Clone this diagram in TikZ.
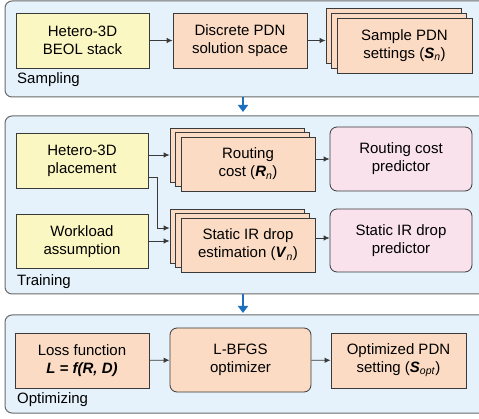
\documentclass[tikz,border=0pt]{standalone}
\usepackage{fontspec}
\setmainfont{Liberation Sans}
\usetikzlibrary{arrows.meta,calc}
\definecolor{feld}{HTML}{E5F2FB}
\definecolor{rahmen}{HTML}{6A6A6A}
\definecolor{linie}{HTML}{3A3A3A}
\definecolor{gelbl}{HTML}{FBF7C2}
\definecolor{pfirsich}{HTML}{FBDBC3}
\definecolor{rosa}{HTML}{F9E2EC}
\definecolor{blau}{HTML}{1C70BF}
\tikzset{
  pfeil/.style={-{Latex[length=6pt,width=5.5pt]},linie,line width=0.9pt},
  stufe/.style={-{Triangle[length=7pt,width=10pt]},blau,line width=2.2pt},
  panel/.style={fill=feld,draw=rahmen,line width=1pt,rounded corners=7pt},
  kasten/.style={draw=linie,line width=0.8pt,align=center,inner sep=0pt,minimum height=55pt},
  gelb/.style={kasten,fill=gelbl},
  orange/.style={kasten,fill=pfirsich},
  rund/.style={kasten,rounded corners=7pt},
  titel/.style={anchor=west,inner sep=0pt},
}
\begin{document}
\begin{tikzpicture}[x=1pt,y=-1pt,every node/.style={font=\fontsize{15}{18}\selectfont}]
  \useasboundingbox (0,0) rectangle (479,419);
  \draw[panel] (5,1) rectangle (492,97);
  \draw[panel] (5,116) rectangle (492,294);
  \draw[panel] (5,315) rectangle (492,413);
  \node[titel] (samplbl) at (17,80) {Sampling};
  \node[titel] (trainlbl) at (17,282) {Training};
  \node[titel] (optlbl) at (17,400) {Optimizing};

  \node[gelb,minimum width=133pt] (beol) at (82.5,40.5) {Hetero-3D\\BEOL stack};
  \node[orange,minimum width=134pt] (space) at (240,40.5) {Discrete PDN\\solution space};
  \node[orange,minimum width=135pt] (sampc) at (393.5,35.5) {};
  \node[orange,minimum width=135pt] (sampb) at (399,40.5) {};
  \node[orange,minimum width=135pt] (samp) at (404.5,45.5) {Sample PDN\\settings (\textbf{\textit{S}}\textsubscript{\textit{n}})};
  \draw[pfeil] (beol) -- (space);
  \draw[pfeil] (space.east) -- (space.east -| sampc.west);

  \node[gelb,minimum width=132pt] (place) at (82,160.5) {Hetero-3D\\placement};
  \node[gelb,minimum width=132pt,minimum height=54pt] (work) at (82,241.5) {Workload\\assumption};
  \node[orange,minimum width=134pt,minimum height=54pt] (routc) at (237,155) {};
  \node[orange,minimum width=134pt,minimum height=54pt] (routb) at (242.5,159.5) {};
  \node[orange,minimum width=134pt,minimum height=54pt] (rout) at (248,164) {Routing\\cost (\textbf{\textit{R}}\textsubscript{\textit{n}})};
  \node[orange,minimum width=134pt,minimum height=54pt] (irc) at (237,236) {};
  \node[orange,minimum width=134pt,minimum height=54pt] (irb) at (242.5,240.5) {};
  \node[orange,minimum width=134pt,minimum height=54pt] (ir) at (248,245) {Static IR drop\\estimation (\textbf{\textit{V}}\textsubscript{\textit{n}})};
  \node[rund,fill=rosa,minimum width=142pt,minimum height=64pt] (rpred) at (401,159) {Routing cost\\predictor};
  \node[rund,fill=rosa,minimum width=142pt,minimum height=63pt] (ipred) at (401,240.5) {Static IR drop\\predictor};
  \coordinate (knick) at (157,177);
  \draw[pfeil] (place.east |- routc.west) -- (routc.west);
  \draw[pfeil] (place.east |- knick) -- (knick) |- ($(irc.west)+(0,-8)$);
  \draw[pfeil] (work.east |- irc.west) ++(0,5) -- ($(irc.west)+(0,5)$);
  \draw[pfeil] (rout.east |- rpred.west) -- (rpred.west);
  \draw[pfeil] ($(ir.east)+(0,-7)$) -- ($(ir.east -| ipred.west)+(0,-7)$);

  \node[orange,minimum width=134pt] (loss) at (82,360.5) {Loss function\\\textbf{\textit{L = f(R, D)}}};
  \node[rund,fill=pfirsich,minimum width=141pt,minimum height=64pt] (lbfgs) at (240.5,360) {L-BFGS\\optimizer};
  \node[orange,minimum width=135pt] (sopt) at (398.5,360.5) {Optimized PDN\\setting (\textbf{\textit{S}}\textsubscript{\textit{opt}})};
  \draw[pfeil] (loss) -- (lbfgs);
  \draw[pfeil] (lbfgs) -- (sopt);

  \coordinate (stufe1) at (243,97);
  \coordinate (stufe2) at (243,294);
  \draw[stufe] (stufe1) -- ++(0,15);
  \draw[stufe] (stufe2) -- ++(0,19);
\end{tikzpicture}
\end{document}
